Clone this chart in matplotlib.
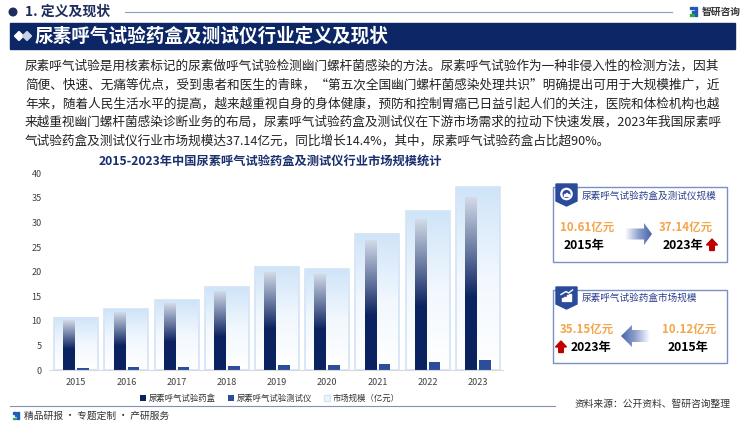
import numpy as np
import matplotlib
matplotlib.use('Agg')
import matplotlib.pyplot as plt
from matplotlib.patches import Rectangle, Polygon, Circle, Patch
from matplotlib.colors import LinearSegmentedColormap

plt.rcParams['font.family'] = ['Noto Sans CJK SC', 'DejaVu Sans']

# data (亿元)
years = ['2015', '2016', '2017', '2018', '2019', '2020', '2021', '2022', '2023']
kit = [10.12, 11.7, 13.5, 15.95, 19.9, 19.45, 26.4, 30.65, 35.15]
device = [0.49, 0.65, 0.7, 0.9, 1.1, 1.05, 1.3, 1.65, 1.99]
market = [10.61, 12.35, 14.2, 16.85, 21.0, 20.5, 27.7, 32.3, 37.14]

para = [
    '尿素呼气试验是用核素标记的尿素做呼气试验检测幽门螺杆菌感染的方法。尿素呼气试验作为一种非侵入性的检测方法，因其',
    '简便、快速、无痛等优点，受到患者和医生的青睐，“第五次全国幽门螺杆菌感染处理共识”明确提出可用于大规模推广，近',
    '年来，随着人民生活水平的提高，越来越重视自身的身体健康，预防和控制胃癌已日益引起人们的关注，医院和体检机构也越',
    '来越重视幽门螺杆菌感染诊断业务的布局，尿素呼气试验药盒及测试仪在下游市场需求的拉动下快速发展，2023年我国尿素呼',
    '气试验药盒及测试仪行业市场规模达37.14亿元，同比增长14.4%，其中，尿素呼气试验药盒占比超90%。',
]

navy = '#0d2766'
fig = plt.figure(figsize=(7.5, 4.22), dpi=100)
bg = fig.add_axes([0, 0, 1, 1])
bg.axis('off')

# header
bg.add_patch(Circle((13, 12), 3.8, color='#1f2d5c'))
bg.text(25, 12, '1. 定义及现状', fontsize=10, fontweight='bold', color='#1f2d5c', va='center')
bg.plot([125, 672], [12, 12], color='#8b9cc6', lw=0.8)
def logo(x, y, s=1.0):
    bg.add_patch(Rectangle((x, y - 5*s), 4*s, 2.2*s, color='#1e5bb8'))
    bg.add_patch(Rectangle((x + 2*s, y - 1.5*s), 2*s, 2*s, color='#1e5bb8'))
    bg.add_patch(Rectangle((x, y + 2*s), 4*s, 2.2*s, color='#2aa84a'))
    bg.add_patch(Rectangle((x + 5*s, y - 5*s), 2.2*s, 9.2*s, color='#1e5bb8'))
logo(690, 12)
bg.text(702, 12, '智研咨询', fontsize=7, fontweight='bold', color='#333333', va='center')

# banner
bg.add_patch(Rectangle((10, 23), 725, 26, color=navy))
for cx, c in [(19, 'white'), (27, '#c9d2e6')]:
    bg.add_patch(Polygon([(cx - 4.5, 36), (cx, 31.5), (cx + 4.5, 36), (cx, 40.5)], color=c))
bg.text(35, 36, '尿素呼气试验药盒及测试仪行业定义及现状', fontsize=13.4, fontweight='bold',
        color='white', va='center')

# paragraph
for i, line in enumerate(para):
    bg.text(25, 66 + i * 18.8, line, fontsize=9.1, color='#222222', va='center')

bg.text(270, 161, '2015-2023年中国尿素呼气试验药盒及测试仪行业市场规模统计', fontsize=8.8,
        fontweight='bold', color='#1a2f6e', ha='center', va='center')

# chart
ax = fig.add_axes([50/750, 1 - 370/422, 453/750, (370 - 173.3)/422])
x = np.arange(len(years))
grad = np.linspace(1, 0, 256).reshape(-1, 1)
light_cm = LinearSegmentedColormap.from_list('lb', ['#ffffff', '#f2f8fe', '#cfe4f8'])
dark_cm = LinearSegmentedColormap.from_list('dk', [(0, '#0b2260'), (0.42, '#0b2260'), (1, '#d3dbe8')])
bw, kw = 0.875, 0.23
for i in range(len(years)):
    ax.imshow(grad, cmap=light_cm, aspect='auto', zorder=1,
              extent=(x[i] - bw/2, x[i] + bw/2, 0, market[i]))
    ax.imshow(grad, cmap=dark_cm, aspect='auto', zorder=3,
              extent=(x[i] - 0.14 - kw/2, x[i] - 0.14 + kw/2, 0, kit[i]))
ax.bar(x, market, width=bw, fill=False, edgecolor='#d5e5f7', lw=1.3, zorder=2)
ax.bar(x + 0.14, device, width=kw, color='#2c4d99', zorder=3)
ax.set_xlim(-0.52, 8.5)
ax.set_ylim(0, 40)
ax.set_xticks(x)
ax.set_xticklabels(years)
ax.set_yticks(range(0, 41, 5))
ax.tick_params(length=0, labelsize=6.5, colors='#404040')
ax.tick_params(axis='y', pad=6)
ax.tick_params(axis='x', pad=6)
for s in ['top', 'right', 'left']:
    ax.spines[s].set_visible(False)
ax.spines['bottom'].set_color('#d9d9d9')
ax.spines['bottom'].set_zorder(4)

handles = [Patch(facecolor='#0b2260'), Patch(facecolor='#2c4d99'),
           Patch(facecolor='#eef5fd', edgecolor='#d5e5f7')]
fig.legend(handles, ['尿素呼气试验药盒', '尿素呼气试验测试仪', '市场规模（亿元）'],
           loc='center', bbox_to_anchor=(270/750, 1 - 398/422), ncol=3, frameon=False,
           fontsize=6, handlelength=0.7, handleheight=0.7, columnspacing=1.5,
           handletextpad=0.3, labelcolor='#333333')

# right panels
def badge(y0):
    bg.add_patch(Polygon([(556, y0), (577, y0), (577, y0 + 17), (566.5, y0 + 22), (556, y0 + 17)],
                         color='#2a4a9b', zorder=3))

def grad_arrow(pts, x0, x1, y0, y1, reverse=False):
    poly = Polygon(pts, fc='none', ec='none')
    bg.add_patch(poly)
    g = np.linspace(0, 1, 256).reshape(1, -1)
    if reverse:
        g = g[:, ::-1]
    cm = LinearSegmentedColormap.from_list('ar', ['#ffffff', '#8fa2cf', '#4463a8'])
    im = bg.imshow(g, cmap=cm, aspect='auto', extent=(x0, x1, y1, y0), zorder=2)
    im.set_clip_path(poly)

def red_up(cx, cy):
    bg.add_patch(Polygon([(cx, cy - 6), (cx + 5.5, cy), (cx + 2.3, cy), (cx + 2.3, cy + 5.5),
                          (cx - 2.3, cy + 5.5), (cx - 2.3, cy), (cx - 5.5, cy)], color='#c00000'))

bg.add_patch(Rectangle((553, 187), 174, 75, fill=False, edgecolor='#7c8fc4', lw=1))
badge(184)
bg.add_patch(Circle((566.5, 194), 5.2, fc='none', ec='white', lw=1.6, zorder=4))
for k, h in enumerate([2, 3.5, 2.5]):
    bg.add_patch(Rectangle((564 + k * 1.8, 196 - h), 1.2, h, color='white', zorder=4))
bg.text(582, 196, '尿素呼气试验药盒及测试仪规模', fontsize=6.9, color='#2b3f8c', va='center')
bg.text(587, 228, '10.61亿元', fontsize=8.3, fontweight='bold', color='#f5a54a', ha='center', va='center')
bg.text(584, 246, '2015年', fontsize=8.8, fontweight='bold', color='black', ha='center', va='center')
bg.text(686, 228, '37.14亿元', fontsize=8.3, fontweight='bold', color='#f5a54a', ha='center', va='center')
bg.text(683, 246, '2023年', fontsize=8.8, fontweight='bold', color='black', ha='center', va='center')
red_up(712, 245)
grad_arrow([(625, 228.5), (644, 228.5), (644, 223), (652, 234), (644, 245), (644, 239.5), (625, 239.5)],
           625, 652, 223, 245)

bg.add_patch(Rectangle((553, 290), 174, 73, fill=False, edgecolor='#7c8fc4', lw=1))
badge(287)
for k, h in enumerate([3, 4.5, 6, 7.5]):
    bg.add_patch(Rectangle((561.5 + k * 2.6, 301 - h), 1.6, h, color='white', zorder=4))
bg.plot([561, 566, 568.5, 572.5], [294.5, 291.5, 293, 290], color='white', lw=1, zorder=4)
bg.text(582, 298, '尿素呼气试验药盒市场规模', fontsize=6.9, color='#2b3f8c', va='center')
bg.text(587, 330, '35.15亿元', fontsize=8.3, fontweight='bold', color='#f5a54a', ha='center', va='center')
bg.text(591, 348, '2023年', fontsize=8.8, fontweight='bold', color='black', ha='center', va='center')
red_up(561, 347)
bg.text(689, 330, '10.12亿元', fontsize=8.3, fontweight='bold', color='#f5a54a', ha='center', va='center')
bg.text(688, 348, '2015年', fontsize=8.8, fontweight='bold', color='black', ha='center', va='center')
grad_arrow([(650, 330), (632, 330), (632, 325), (621, 336), (632, 347), (632, 342), (650, 342)],
           621, 650, 325, 347, reverse=True)

# footer
bg.plot([10, 555], [406, 406], color='#8090b8', lw=0.8)
logo(13, 416, 0.8)
bg.text(24, 416, '精品研报 · 专题定制 · 产研服务', fontsize=7, color='#333333', va='center')
bg.text(575, 404, '资料来源：公开资料、智研咨询整理', fontsize=7, color='#333333', va='center')

bg.set_xlim(0, 750)
bg.set_ylim(422, 0)

fig.savefig('out.png', dpi=100)
